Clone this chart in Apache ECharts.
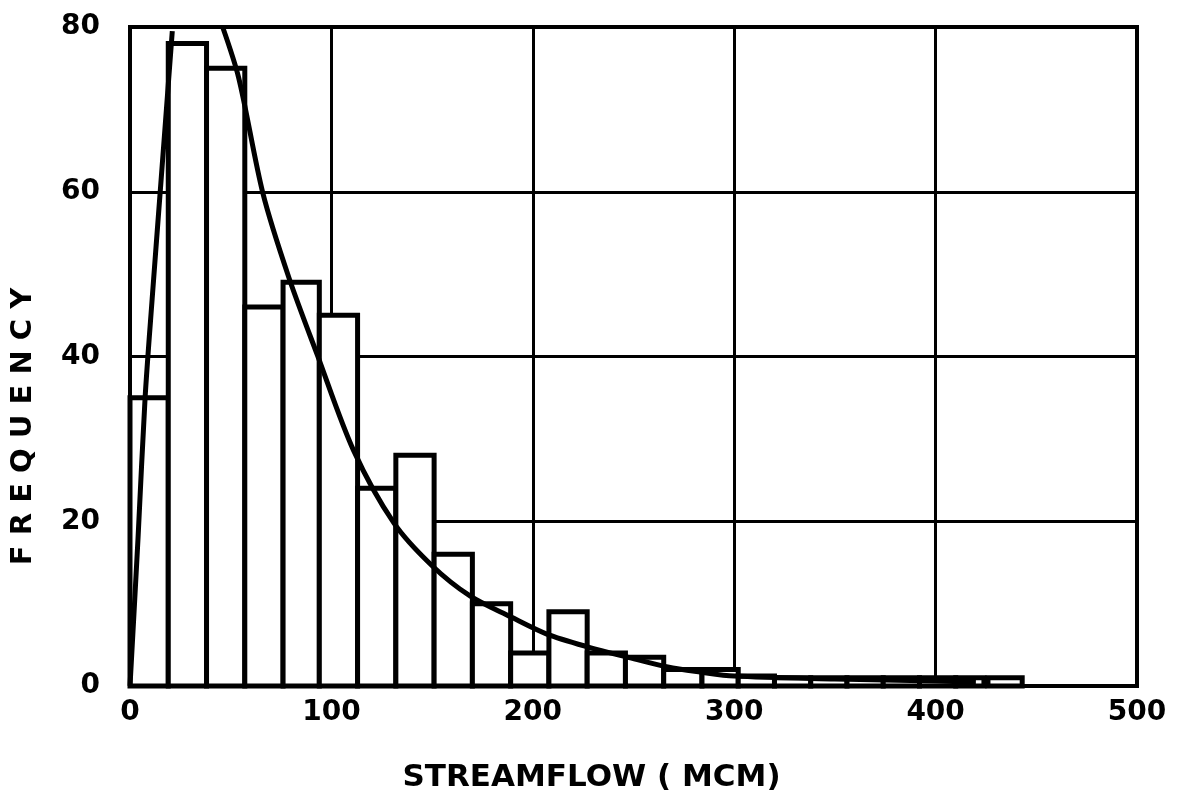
<!DOCTYPE html>
<html lang="en">
<head>
    <meta charset="utf-8">
    <title>Streamflow frequency</title>
    <script src="https://cdn.jsdelivr.net/npm/echarts@6/dist/echarts.min.js"></script>
    <style>
        body { margin: 0; background: #fff; }
    </style>
</head>
<body>

<div id="hist" style="width: 1190px;height:802px;"></div>

<script>
    // histogram bins (MCM)
    let binStart = [0, 19, 38, 57, 76, 94, 113, 132, 151, 170, 189, 208, 227, 246, 265, 284, 302, 320, 338, 356, 374, 392, 410, 426];
    let binEnd   = [19, 38, 57, 76, 94, 113, 132, 151, 170, 189, 208, 227, 246, 265, 284, 302, 320, 338, 356, 374, 392, 410, 424, 443];
    let freq     = [35, 78, 75, 46, 49, 45, 24, 28, 16, 10, 4, 9, 4, 3.5, 2, 2, 1.2, 1, 1, 1, 1, 1, 1, 1];

    // fitted curve (goes off the top of the chart between ~21 and ~46)
    let curveX = [0, 4, 7.5, 11, 15, 21, null, 46, 54, 66, 79, 93, 111, 131, 150, 169, 189, 207, 228, 247, 267, 283, 300, 350, 400, 420];
    let curveY = [0, 18, 35, 47, 60, 79.5, null, 80, 73.8, 59.8, 49.5, 40.2, 28.6, 19.8, 14.6, 10.9, 8.4, 6.3, 4.7, 3.5, 2.3, 1.7, 1.2, 0.85, 0.6, 0.5];

    let xTicks = [0, 100, 200, 300, 400, 500];
    let yTicks = [0, 20, 40, 60, 80];

    let bars = [];
    for (let i = 0; i < freq.length; i++) {
        bars.push([binStart[i], binEnd[i], freq[i]]);
    }
    let curve = [];
    for (let i = 0; i < curveX.length; i++) {
        if (curveX[i] === null) {
            curve.push([null, null]);
        } else {
            curve.push([curveX[i], curveY[i]]);
        }
    }

    let font = 'DejaVu Sans';
    let myChart = echarts.init(document.getElementById('hist'));

    let option = {
        animation: false,
        backgroundColor: '#fff',
        grid: {
            left: 130,
            right: 53,
            top: 27,
            bottom: 116,
            show: true,
            borderColor: '#000',
            borderWidth: 4
        },
        xAxis: {
            type: 'value',
            min: xTicks[0],
            max: xTicks[xTicks.length - 1],
            interval: 100,
            name: 'STREAMFLOW ( MCM)',
            nameLocation: 'middle',
            nameGap: 76,
            nameTextStyle: {color: '#000', fontFamily: font, fontWeight: 'bold', fontSize: 31, padding: [0, 84, 0, 0]},
            axisLine: {show: true, lineStyle: {color: '#000', width: 4}},
            axisTick: {show: false},
            axisLabel: {color: '#000', fontFamily: font, fontWeight: 'bold', fontSize: 28, margin: 13},
            splitLine: {show: true, lineStyle: {color: '#000', width: 3}}
        },
        yAxis: {
            type: 'value',
            min: yTicks[0],
            max: yTicks[yTicks.length - 1],
            interval: 20,
            name: 'F R E Q U E N C Y',
            nameLocation: 'middle',
            nameRotate: 90,
            nameGap: 92,
            nameTextStyle: {color: '#000', fontFamily: font, fontWeight: 'bold', fontSize: 29, padding: [0, 140, 0, 0]},
            axisLine: {show: true, lineStyle: {color: '#000', width: 4}},
            axisTick: {show: false},
            axisLabel: {color: '#000', fontFamily: font, fontWeight: 'bold', fontSize: 28, margin: 30},
            splitLine: {show: true, lineStyle: {color: '#000', width: 3}}
        },
        series: [
            {
                type: 'custom',
                z: 3,
                renderItem: function (params, api) {
                    let p0 = api.coord([api.value(0), api.value(2)]);
                    let p1 = api.coord([api.value(1), 0]);
                    return {
                        type: 'rect',
                        shape: {x: p0[0], y: p0[1], width: p1[0] - p0[0], height: p1[1] - p0[1]},
                        style: {fill: '#fff', stroke: '#000', lineWidth: 5}
                    };
                },
                encode: {x: [0, 1], y: 2},
                data: bars
            },
            {
                type: 'line',
                z: 4,
                symbol: 'none',
                smooth: 0.3,
                connectNulls: false,
                lineStyle: {color: '#000', width: 5},
                data: curve
            }
        ]
    };
    myChart.setOption(option);
</script>
</body>
</html>
